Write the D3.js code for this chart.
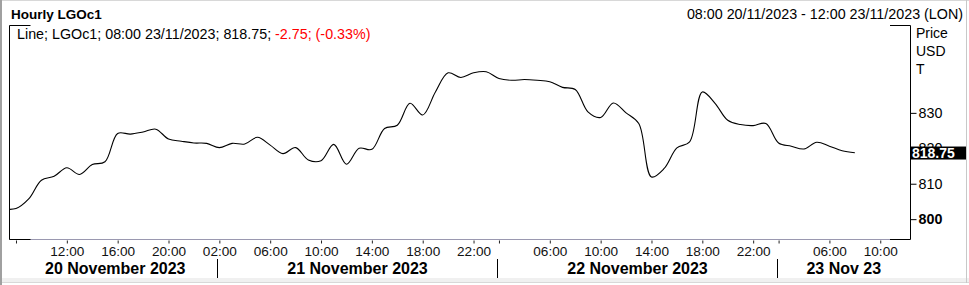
<!DOCTYPE html>
<html>
<head>
<meta charset="utf-8">
<script src="https://cdn.jsdelivr.net/npm/d3@7"></script>
<style>
  body { margin: 0; background: #fff; }
  svg { display: block; font-family: "Liberation Sans", Arial, sans-serif; }
</style>
</head>
<body>
<div id="chart"></div>
<script>
// hourly bars per trading day (ICE session, London time)
const days = ["20/11", "21/11", "22/11", "23/11"];
const dayLabels = ["20 November 2023", "21 November 2023", "22 November 2023", "23 Nov 23"];
const hours20 = [7, 8, 9, 10, 11, 12, 13, 14, 15, 16, 17, 18, 19, 20, 21, 22];
const hours21 = [1, 2, 3, 4, 5, 6, 7, 8, 9, 10, 11, 12, 13, 14, 15, 16, 17, 18, 19, 20, 21, 22];
const hours22 = [1, 2, 3, 4, 5, 6, 7, 8, 9, 10, 11, 12, 13, 14, 15, 16, 17, 18, 19, 20, 21, 22];
const hours23 = [1, 2, 3, 4, 5, 6, 7, 8, 9, 10, 11, 12];

// closing prices
const close20 = [802.9, 803.0, 805.7, 811.0, 812.1, 814.5, 812.6, 815.4, 816.2, 824.2, 824.0, 824.6, 825.4, 822.6, 822.0, 821.5];
const close21 = [821.4, 820.2, 821.4, 821.2, 823.1, 820.9, 818.5, 820.2, 816.7, 816.5, 821.1, 815.5, 820.0, 819.7, 825.6, 826.5, 832.7, 829.4, 835.9, 841.3, 840.0, 841.3];
const close22 = [841.6, 839.7, 839.2, 839.4, 839.2, 838.8, 837.2, 836.6, 830.3, 828.7, 832.8, 830.0, 827.0, 811.9, 814.3, 820.1, 821.8, 835.9, 832.7, 827.9, 826.7, 826.4];
const close23 = [827.0, 821.5, 820.6, 819.8, 821.7, 820.6, 819.3, 818.75];

const axisTicks = ["20/11 08:00", "20/11 12:00", "20/11 16:00", "20/11 20:00", "21/11 02:00", "21/11 06:00", "21/11 10:00",
  "21/11 14:00", "21/11 18:00", "21/11 22:00", "22/11 02:00", "22/11 06:00", "22/11 10:00", "22/11 14:00", "22/11 18:00",
  "22/11 22:00", "23/11 02:00", "23/11 06:00", "23/11 10:00"];
const unlabeledTicks = ["20/11 08:00", "22/11 02:00", "23/11 02:00"];
const dayBreaks = ["21/11 02:00", "22/11 02:00", "23/11 02:00"];
const yTicks = [800, 810, 820, 830];
const lastPrice = 818.75;

const width = 969, height = 285;
const plot = {left: 9, right: 910, top: 25, bottom: 239};

const pad = (h) => (h < 10 ? "0" + h : "" + h) + ":00";
const allHours = [hours20, hours21, hours22, hours23];
const allClose = [close20, close21, close22, close23];

// sequential bar slots (gaps between sessions removed)
const bars = [];
allHours.forEach(function (hs, di) {
    hs.forEach(function (h, hi) {
        bars.push({key: days[di] + " " + pad(h), hour: pad(h), value: allClose[di][hi]});
    });
});
bars.forEach((d, i) => d.i = i);
const slot = new Map(bars.map(d => [d.key, d.i]));
const series = bars.filter(d => d.value !== undefined);

const x = d3.scaleLinear().domain([0.45, 71.34]).range([plot.left, plot.right]);
const y = d3.scaleLinear().domain([794.4, 854.8]).range([plot.bottom, plot.top]);

const svg = d3.select("#chart").append("svg")
    .attr("width", width)
    .attr("height", height);

// outer frame
svg.append("rect").attr("x", 0).attr("y", 278).attr("width", width).attr("height", 4).attr("fill", "#f0f0f0");
svg.append("line").attr("x1", 0).attr("x2", width).attr("y1", 282.5).attr("y2", 282.5).attr("stroke", "#d8d8d8");
svg.append("line").attr("x1", 0).attr("x2", width).attr("y1", 0.5).attr("y2", 0.5).attr("stroke", "#d8d8d8");
svg.append("rect").attr("x", 0).attr("y", 0).attr("width", 2).attr("height", height).attr("fill", "#a0a0a0");
svg.append("line").attr("x1", 966.5).attr("x2", 966.5).attr("y1", 0).attr("y2", 283).attr("stroke", "#c8c8c8");

// header
svg.append("text").attr("x", 11).attr("y", 19)
    .attr("font-size", "13.5px").attr("font-weight", "bold").text("Hourly LGOc1");
svg.append("text").attr("x", 963).attr("y", 19).attr("text-anchor", "end")
    .attr("font-size", "14.3px").text("08:00 20/11/2023 - 12:00 23/11/2023 (LON)");

const legend = svg.append("text").attr("x", 17).attr("y", 39).attr("font-size", "14.3px");
legend.append("tspan").attr("fill", "#000").text("Line; LGOc1; 08:00 23/11/2023; 818.75; ");
legend.append("tspan").attr("fill", "#ff0000").text("-2.75; (-0.33%)");

["Price", "USD", "T"].forEach(function (t, i) {
    svg.append("text").attr("x", 916).attr("y", 38 + i * 18).attr("font-size", "14px").text(t);
});

// plot frame: full sides, corner brackets top and bottom
svg.append("line").attr("x1", plot.left + 0.5).attr("x2", plot.right - 0.5)
    .attr("y1", plot.bottom + 0.5).attr("y2", plot.bottom + 0.5).attr("stroke", "#9a98b0");
const frame = d3.path();
frame.moveTo(plot.left + 0.5 + 21, plot.top + 0.5);
frame.lineTo(plot.left + 0.5, plot.top + 0.5);
frame.lineTo(plot.left + 0.5, plot.bottom + 0.5);
frame.lineTo(plot.left + 0.5 + 21, plot.bottom + 0.5);
frame.moveTo(plot.right - 20, plot.top + 0.5);
frame.lineTo(plot.right + 0.5, plot.top + 0.5);
frame.lineTo(plot.right + 0.5, plot.bottom + 0.5);
frame.lineTo(plot.right - 20, plot.bottom + 0.5);
svg.append("path").attr("d", frame.toString()).attr("fill", "none").attr("stroke", "#000");

// price line
svg.append("clipPath").attr("id", "clip").append("rect")
    .attr("x", plot.left + 1).attr("y", plot.top).attr("width", plot.right - plot.left - 1).attr("height", plot.bottom - plot.top);

const line = d3.line()
    .curve(d3.curveCatmullRom.alpha(0.5))
    .x(d => x(d.i))
    .y(d => y(d.value));

svg.append("path")
    .datum(series)
    .attr("clip-path", "url(#clip)")
    .attr("fill", "none")
    .attr("stroke", "#000")
    .attr("stroke-width", 1.1)
    .attr("d", line);

// right value axis
const yAxis = d3.axisRight(y).tickValues(yTicks).tickSize(6).tickPadding(2).tickFormat(d3.format("d"));
const gy = svg.append("g")
    .attr("transform", `translate(${plot.right + 0.5},0)`)
    .call(yAxis);
gy.select(".domain").remove();
gy.selectAll(".tick line").attr("stroke", "#000");
gy.selectAll(".tick text")
    .attr("fill", "#000")
    .attr("font-size", "14.3px")
    .attr("font-family", "Liberation Sans, Arial, sans-serif")
    .attr("font-weight", d => d === 800 ? "bold" : "normal");

// last price box
svg.append("rect")
    .attr("x", plot.right + 1).attr("y", y(lastPrice) - 6.2)
    .attr("width", 55).attr("height", 13)
    .attr("fill", "#000");
svg.append("text")
    .attr("x", plot.right + 2).attr("y", y(lastPrice) + 5)
    .attr("fill", "#fff").attr("font-size", "14px").attr("font-weight", "bold")
    .text(d3.format(".2f")(lastPrice));

// time axis
const tickIdx = axisTicks.map(k => slot.get(k));
const xAxis = d3.axisBottom(x)
    .tickValues(tickIdx)
    .tickSize(4)
    .tickPadding(3)
    .tickFormat(i => unlabeledTicks.includes(bars[i].key) ? "" : bars[i].hour);
const gx = svg.append("g")
    .attr("transform", `translate(0,${plot.bottom + 0.5})`)
    .call(xAxis);
gx.select(".domain").remove();
gx.selectAll(".tick line").attr("stroke", "#222").attr("y1", 1);
gx.selectAll(".tick text")
    .attr("fill", "#111")
    .attr("font-size", "13.6px")
    .attr("font-family", "Liberation Sans, Arial, sans-serif");

// day separators and day names
const breaksX = dayBreaks.map(k => Math.round(x(slot.get(k))) - 1.5);
breaksX.forEach(function (bx) {
    svg.append("line").attr("x1", bx).attr("x2", bx).attr("y1", 259).attr("y2", 278).attr("stroke", "#000");
});
const edges = [plot.left + 4].concat(breaksX, [plot.right]);
dayLabels.forEach(function (t, i) {
    svg.append("text")
        .attr("x", (edges[i] + edges[i + 1]) / 2)
        .attr("y", 274)
        .attr("text-anchor", "middle")
        .attr("font-size", "16px")
        .attr("font-weight", "bold")
        .text(t);
});
</script>
</body>
</html>
